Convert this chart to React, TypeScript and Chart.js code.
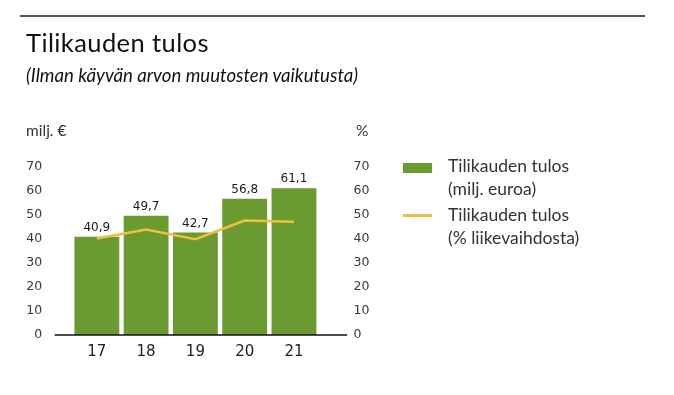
import React, { useEffect, useRef } from "react";
import { Chart, registerables } from "chart.js";

Chart.register(...registerables);

const categories = ["17", "18", "19", "20", "21"];
const profitMEur = [40.9, 49.7, 42.7, 56.8, 61.1];
const profitPct = [40.2, 43.9, 39.9, 47.7, 47.2];
const yTickValues = [0, 10, 20, 30, 40, 50, 60, 70];

const GREEN = "#6a9a30";
const YELLOW = "#f0bf3f";

const TITLE_FONT = "Lato, 'Open Sans', sans-serif";
const NUM_FONT = "'DejaVu Sans', sans-serif";

export default function App() {
  const ref = useRef<HTMLCanvasElement | null>(null);

  useEffect(() => {
    if (!ref.current) return;
    const valueLabels = {
      id: "valueLabels",
      afterDatasetsDraw(chart: any) {
        const ctx = chart.ctx;
        const meta = chart.getDatasetMeta(0);
        ctx.save();
        ctx.font = `12px ${NUM_FONT}`;
        ctx.fillStyle = "#1a1a1a";
        ctx.textAlign = "center";
        ctx.textBaseline = "alphabetic";
        meta.data.forEach((bar: any, i: number) => {
          const txt = profitMEur[i].toFixed(1).replace(".", ",");
          ctx.fillText(txt, bar.x, bar.y - 6);
        });
        ctx.restore();
      },
    };
    const baseline = {
      id: "baseline",
      afterDraw(chart: any) {
        const ctx = chart.ctx;
        const y = chart.scales.y.getPixelForValue(0);
        ctx.save();
        ctx.strokeStyle = "#111";
        ctx.lineWidth = 1.5;
        ctx.beginPath();
        ctx.moveTo(chart.chartArea.left - 17.5, y);
        ctx.lineTo(chart.chartArea.right + 28.5, y);
        ctx.stroke();
        ctx.restore();
      },
    };
    const chart = new Chart(ref.current, {
      type: "bar",
      data: {
        labels: categories,
        datasets: [
          {
            type: "bar",
            label: "Tilikauden tulos (milj. euroa)",
            data: profitMEur,
            backgroundColor: GREEN,
            borderWidth: 0,
            barPercentage: 0.91,
            categoryPercentage: 1,
            yAxisID: "y",
            order: 1,
          },
          {
            type: "line",
            label: "Tilikauden tulos (% liikevaihdosta)",
            data: profitPct,
            borderColor: YELLOW,
            borderWidth: 2.5,
            pointRadius: 0,
            tension: 0,
            yAxisID: "y2",
            order: 0,
          } as any,
        ],
      },
      options: {
        animation: false,
        responsive: false,
        layout: { padding: { top: 167, left: 0, right: 0, bottom: 0 } },
        plugins: { legend: { display: false }, tooltip: { enabled: false } },
        scales: {
          x: {
            grid: { display: false, drawTicks: false },
            border: { display: false },
            ticks: {
              color: "#222",
              font: { family: NUM_FONT, size: 15 },
              padding: 8,
            },
            afterFit(s: any) {
              s.height = 60;
            },
          },
          y: {
            position: "left",
            min: 0,
            max: 70,
            afterBuildTicks(s: any) {
              s.ticks = yTickValues.map((v) => ({ value: v }));
            },
            grid: { display: false, drawTicks: false },
            border: { display: false },
            ticks: {
              color: "#3a3a3a",
              font: { family: NUM_FONT, size: 12.5 },
              padding: 30,
            },
            afterFit(s: any) {
              s.width = 72.2;
            },
          },
          y2: {
            position: "right",
            min: 0,
            max: 70,
            afterBuildTicks(s: any) {
              s.ticks = yTickValues.map((v) => ({ value: v }));
            },
            grid: { display: false, drawTicks: false },
            border: { display: false },
            ticks: {
              color: "#3a3a3a",
              font: { family: NUM_FONT, size: 12.5 },
              padding: 35,
            },
            afterFit(s: any) {
              s.width = 674 - 318.6;
            },
          },
        },
      },
      plugins: [valueLabels, baseline],
    });
    return () => chart.destroy();
  }, []);

  const legendText: React.CSSProperties = {
    position: "absolute",
    left: 448,
    fontFamily: TITLE_FONT,
    fontSize: 17.5,
    lineHeight: "23px",
    color: "#333",
    whiteSpace: "nowrap",
  };

  return (
    <div
      style={{
        position: "absolute",
        left: 0,
        top: 0,
        width: 674,
        height: 395,
        background: "#fff",
        overflow: "hidden",
      }}
    >
      <canvas
        ref={ref}
        width={674}
        height={395}
        style={{ position: "absolute", left: 0, top: 0, width: 674, height: 395 }}
      />
      <div style={{ position: "absolute", left: 20, top: 15, width: 625, height: 2, background: "#555" }} />
      <div
        style={{
          position: "absolute",
          left: 26,
          top: 27,
          fontFamily: TITLE_FONT,
          fontSize: 25.5,
          letterSpacing: 0.4,
          color: "#111",
          whiteSpace: "nowrap",
          lineHeight: "30px",
        }}
      >
        Tilikauden tulos
      </div>
      <div
        style={{
          position: "absolute",
          left: 26,
          top: 63,
          fontFamily: TITLE_FONT,
          fontStyle: "italic",
          fontSize: 18.6,
          color: "#111",
          whiteSpace: "nowrap",
          lineHeight: "24px",
        }}
      >
        (Ilman käyvän arvon muutosten vaikutusta)
      </div>
      <div
        style={{
          position: "absolute",
          left: 26,
          top: 120,
          fontFamily: TITLE_FONT,
          fontSize: 15.5,
          color: "#333",
          whiteSpace: "nowrap",
          lineHeight: "20px",
        }}
      >
        milj. €
      </div>
      <div
        style={{
          position: "absolute",
          left: 356,
          top: 120,
          fontFamily: TITLE_FONT,
          fontSize: 15.5,
          color: "#333",
          whiteSpace: "nowrap",
          lineHeight: "20px",
        }}
      >
        %
      </div>
      <div style={{ position: "absolute", left: 403, top: 163, width: 29, height: 10, background: GREEN }} />
      <div style={{ position: "absolute", left: 403, top: 214, width: 29, height: 2.5, background: YELLOW }} />
      <div style={{ ...legendText, top: 154 }}>
        Tilikauden tulos
        <br />
        (milj. euroa)
      </div>
      <div style={{ ...legendText, top: 203 }}>
        Tilikauden tulos
        <br />
        (% liikevaihdosta)
      </div>
    </div>
  );
}
